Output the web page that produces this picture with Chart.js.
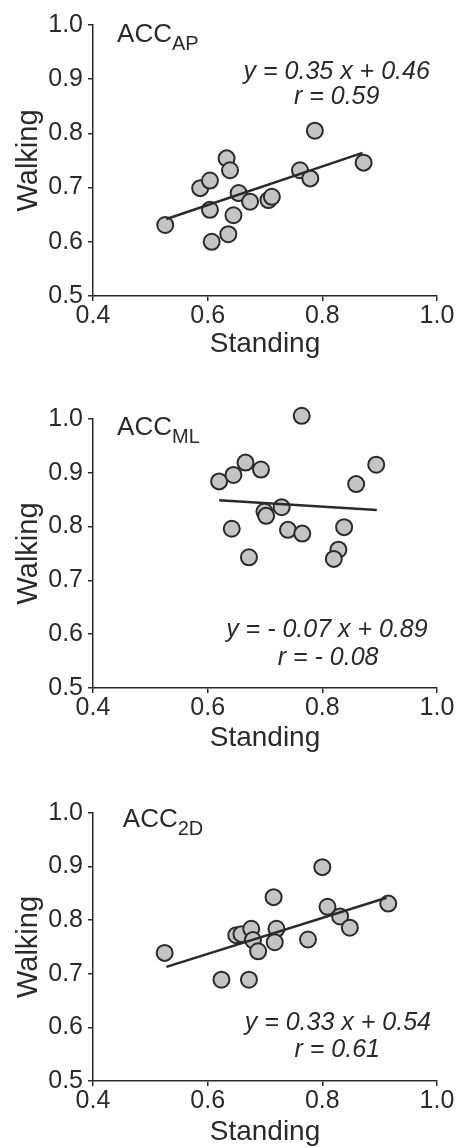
<!DOCTYPE html>
<html>
<head>
<meta charset="utf-8">
<script src="https://cdn.jsdelivr.net/npm/chart.js@4.4.1/dist/chart.umd.min.js"></script>
<style>
    html, body { margin: 0; padding: 0; background: #fff; }
    body { width: 458px; height: 1148px; position: relative; overflow: hidden; }
    .panel { position: absolute; left: 0; width: 458px; height: 360px; }
</style>
</head>
<body>
<div class="panel" style="top: 0px;"><canvas id="chart-ap"></canvas></div>
<div class="panel" style="top: 394px;"><canvas id="chart-ml"></canvas></div>
<div class="panel" style="top: 788px;"><canvas id="chart-2d"></canvas></div>
<script>
// Shared axis ticks
const xTicks = [0.4, 0.6, 0.8, 1.0];
const yTicks = [0.5, 0.6, 0.7, 0.8, 0.9, 1.0];

// ACC AP panel
const apStanding = [0.526, 0.587, 0.604, 0.604, 0.607, 0.633, 0.639, 0.654, 0.674, 0.645, 0.636, 0.706, 0.712, 0.761, 0.779, 0.787, 0.872];
const apWalking  = [0.631, 0.699, 0.713, 0.659, 0.600, 0.754, 0.732, 0.690, 0.674, 0.649, 0.614, 0.677, 0.683, 0.732, 0.717, 0.805, 0.746];
const apFitX = [0.528, 0.870];
const apFitY = [0.642, 0.764];

// ACC ML panel
const mlStanding = [0.764, 0.620, 0.645, 0.666, 0.693, 0.859, 0.894, 0.729, 0.699, 0.702, 0.642, 0.672, 0.740, 0.765, 0.838, 0.828, 0.820];
const mlWalking  = [1.006, 0.884, 0.896, 0.919, 0.906, 0.879, 0.915, 0.836, 0.828, 0.820, 0.796, 0.743, 0.794, 0.787, 0.799, 0.757, 0.740];
const mlFitX = [0.620, 0.895];
const mlFitY = [0.849, 0.831];

// ACC 2D panel
const d2Standing = [0.525, 0.624, 0.672, 0.650, 0.659, 0.676, 0.679, 0.688, 0.715, 0.720, 0.717, 0.775, 0.800, 0.809, 0.831, 0.848, 0.915];
const d2Walking  = [0.739, 0.689, 0.689, 0.772, 0.774, 0.784, 0.763, 0.742, 0.843, 0.784, 0.759, 0.764, 0.899, 0.825, 0.807, 0.786, 0.831];
const d2FitX = [0.528, 0.912];
const d2FitY = [0.713, 0.842];

const INK = '#2a2a2a';
const FONT = '"Liberation Sans", Arial, sans-serif';

const zip = (xs, ys) => xs.map((x, i) => ({ x: x, y: ys[i] }));

// Draws the panel label (with subscript) and the regression text
const panelText = {
    id: 'panelText',
    afterDatasetsDraw(chart, args, opts) {
        const ctx = chart.ctx;
        const xs = chart.scales.x;
        const ys = chart.scales.y;
        ctx.save();
        ctx.fillStyle = INK;

        // label, e.g. ACC_AP
        const lx = xs.getPixelForValue(opts.label.x);
        const ly = ys.getPixelForValue(opts.label.y);
        ctx.textAlign = 'left';
        ctx.textBaseline = 'alphabetic';
        ctx.font = '26px ' + FONT;
        ctx.fillText(opts.label.main, lx, ly);
        const w = ctx.measureText(opts.label.main).width;
        ctx.font = '20px ' + FONT;
        ctx.fillText(opts.label.sub, lx + w, ly + 8);

        // equation and r
        ctx.font = 'italic 25px ' + FONT;
        ctx.textAlign = 'center';
        ctx.textBaseline = 'middle';
        opts.lines.forEach(l => {
            ctx.fillText(l.text, xs.getPixelForValue(l.x), ys.getPixelForValue(l.y));
        });
        ctx.restore();
    }
};

function makePanel(canvasId, standing, walking, fitX, fitY, bottom, textOpts) {
    const canvas = document.getElementById(canvasId);
    return new Chart(canvas, {
        type: 'scatter',
        data: {
            datasets: [{
                type: 'line',
                label: 'fit',
                data: zip(fitX, fitY),
                borderColor: INK,
                borderWidth: 2.5,
                pointRadius: 0,
                fill: false,
                order: 0
            }, {
                label: 'subjects',
                data: zip(standing, walking),
                backgroundColor: '#c4c4c4',
                borderColor: INK,
                borderWidth: 2,
                pointRadius: 8,
                clip: false,
                order: 1
            }]
        },
        options: {
            responsive: true,
            maintainAspectRatio: false,
            animation: false,
            layout: { padding: { left: 0, right: 21, top: 25, bottom: 0 } },
            plugins: {
                legend: { display: false },
                tooltip: { enabled: false },
                panelText: textOpts
            },
            scales: {
                x: {
                    type: 'linear',
                    min: 0.4,
                    max: 1.0,
                    afterBuildTicks: s => { s.ticks = xTicks.map(v => ({ value: v })); },
                    afterFit: s => { s.height = 360 - bottom; },
                    ticks: {
                        color: INK,
                        font: { family: FONT, size: 25 },
                        padding: 0,
                        maxRotation: 0,
                        callback: v => v.toFixed(1)
                    },
                    grid: { drawOnChartArea: false, color: INK, lineWidth: 1.5, tickLength: 5 },
                    border: { color: INK, width: 1.5 },
                    title: {
                        display: true,
                        text: 'Standing',
                        color: INK,
                        font: { family: FONT, size: 28, lineHeight: 1 },
                        padding: { top: 0, bottom: 2 }
                    }
                },
                y: {
                    type: 'linear',
                    min: 0.5,
                    max: 1.0,
                    afterBuildTicks: s => { s.ticks = yTicks.map(v => ({ value: v })); },
                    afterFit: s => { s.width = 93; },
                    ticks: {
                        color: INK,
                        font: { family: FONT, size: 25 },
                        padding: 5,
                        callback: v => v.toFixed(1)
                    },
                    grid: { drawOnChartArea: false, color: INK, lineWidth: 1.5, tickLength: 5 },
                    border: { color: INK, width: 1.5 },
                    title: {
                        display: true,
                        text: 'Walking',
                        color: INK,
                        font: { family: FONT, size: 29, lineHeight: 1 },
                        padding: { top: 14, bottom: 0 }
                    }
                }
            }
        },
        plugins: [panelText]
    });
}

makePanel('chart-ap', apStanding, apWalking, apFitX, apFitY, 296, {
    label: { main: 'ACC', sub: 'AP', x: 0.442, y: 0.969 },
    lines: [
        { text: 'y = 0.35 x + 0.46', x: 0.825, y: 0.913 },
        { text: 'r = 0.59', x: 0.825, y: 0.867 }
    ]
});

makePanel('chart-ml', mlStanding, mlWalking, mlFitX, mlFitY, 294, {
    label: { main: 'ACC', sub: 'ML', x: 0.442, y: 0.971 },
    lines: [
        { text: 'y = - 0.07 x + 0.89', x: 0.808, y: 0.608 },
        { text: 'r = - 0.08', x: 0.810, y: 0.556 }
    ]
});

makePanel('chart-2d', d2Standing, d2Walking, d2FitX, d2FitY, 293, {
    label: { main: 'ACC', sub: '2D', x: 0.452, y: 0.974 },
    lines: [
        { text: 'y = 0.33 x + 0.54', x: 0.827, y: 0.608 },
        { text: 'r = 0.61', x: 0.826, y: 0.557 }
    ]
});
</script>
</body>
</html>
